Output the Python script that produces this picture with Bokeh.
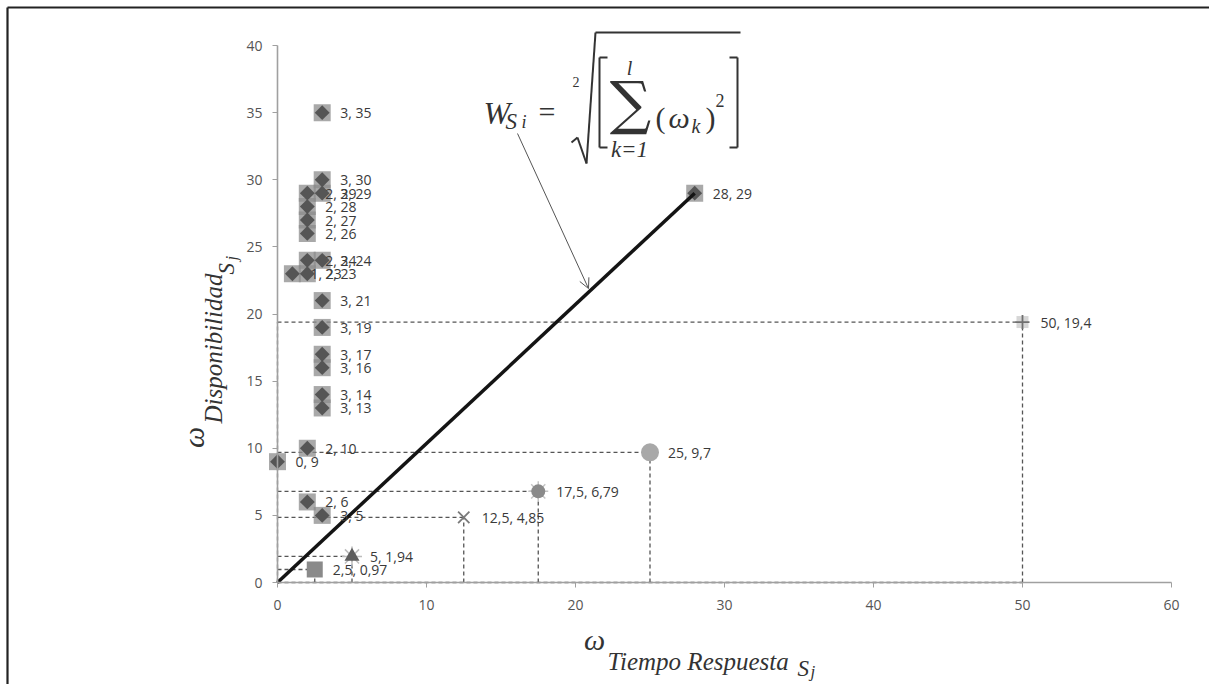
import math
from bokeh.plotting import figure
from bokeh.models import Range1d, Label, LabelSet, Arrow, OpenHead, ColumnDataSource
from bokeh.embed import file_html
from bokeh.resources import INLINE
from bokeh.core.properties import value

# ---------------- data ----------------
dia_x = [3, 3, 2, 3, 2, 2, 2, 2, 3, 1, 2, 3, 3, 3, 3, 3, 3, 2, 0, 2, 3, 28]
dia_y = [35, 30, 29, 29, 28, 27, 26, 24, 24, 23, 23, 21, 19, 17, 16, 14, 13, 10, 9, 6, 5, 29]

ref_x = [2.5, 5, 12.5, 17.5, 25, 50]
ref_y = [0.97, 1.94, 4.85, 6.79, 9.7, 19.4]

line_x = [0, 28]
line_y = [0, 29]

x_ticks = [0, 10, 20, 30, 40, 50, 60]
y_ticks = [0, 5, 10, 15, 20, 25, 30, 35, 40]

# ---------------- layout (page pixels) ----------------
CX, CY = 0, 0            # canvas origin on the page
W, H = 1209, 684
X0PX, XSC = 277.0, 14.9
Y0PX, YSC = 582.0, 13.425


def dx(px):
    return (px - X0PX) / XSC


def dy(py):
    return (Y0PX - py) / YSC


def fmt(v):
    return ("%g" % v).replace(".", ",")


p = figure(width=W, height=H,
           x_range=Range1d(dx(CX), dx(CX + W)), y_range=Range1d(dy(CY + H), dy(CY)),
           output_backend="svg", toolbar_location=None,
           min_border_left=0, min_border_right=0,
           min_border_top=0, min_border_bottom=0)
p.outline_line_color = None
p.outline_line_alpha = 0
p.xgrid.visible = False
p.ygrid.visible = False
p.background_fill_color = "white"
p.border_fill_color = "white"

AX = "#a0a0a0"
for ax in (p.xaxis[0], p.yaxis[0]):
    ax.axis_line_color = AX
    ax.axis_line_width = 1.6
    ax.major_tick_line_color = AX
    ax.major_tick_in = 0
    ax.major_tick_out = 5
    ax.minor_tick_line_color = None
    ax.major_label_text_font = "Open Sans"
    ax.major_label_text_font_size = "14px"
    ax.major_label_text_color = "#555555"
    ax.fixed_location = 0

p.xaxis.ticker = x_ticks
p.xaxis.bounds = (0, 60)
p.xaxis.major_label_standoff = 12
p.yaxis.ticker = y_ticks
p.yaxis.bounds = (0, 40)
p.yaxis.major_label_standoff = 10

# ---------------- drop lines ----------------
n = len(ref_x)
drop = ColumnDataSource(dict(
    x0=[0] * n + ref_x + [0, 0],
    y0=ref_y + [0] * n + [0, 0],
    x1=ref_x + ref_x + [0, max(ref_x)],
    y1=ref_y + ref_y + [max(ref_y), 0],
))
p.segment("x0", "y0", "x1", "y1", source=drop, line_color="#555555",
          line_width=1.3, line_dash="4 3")

# ---------------- diamond series ----------------
p.scatter(dia_x, dia_y, marker="square", size=17, fill_color="#8c8c8c",
          fill_alpha=0.75, line_color=None)
p.scatter(dia_x, dia_y, marker="square", angle=math.pi / 4, size=10.5,
          fill_color="#555555", line_color=None)

# ---------------- reference series ----------------
ref_marker = ["square", "triangle", "x", "circle", "circle", "cross"]
ref_size = [16, 15, 16, 14, 18, 14]
ref_fill = ["#8a8a8a", "#5e5e5e", None, "#8a8a8a", "#a8a8a8", None]
ref_line = [None, None, "#7a7a7a", None, None, "#707070"]
glow = {1: "#bdbdbd", 3: "#c4c4c4"}
for i in range(n):
    if i in glow:
        p.scatter([ref_x[i]], [ref_y[i]], marker="asterisk", size=20,
                  line_color=glow[i], line_width=1.5)
    if i == 5:
        p.scatter([ref_x[i]], [ref_y[i]], marker="square", size=12,
                  fill_color="#d6d6d6", line_color=None)
    p.scatter([ref_x[i]], [ref_y[i]], marker=ref_marker[i], size=ref_size[i],
              fill_color=ref_fill[i], line_color=ref_line[i], line_width=1.8)

# ---------------- W line ----------------
p.line(line_x, line_y, line_color="#141414", line_width=3.5)

# ---------------- data labels ----------------
lab_src = ColumnDataSource(dict(
    x=dia_x + ref_x,
    y=dia_y + ref_y,
    t=["%s, %s" % (fmt(a), fmt(b)) for a, b in zip(dia_x, dia_y)]
      + ["%s, %s" % (fmt(a), fmt(b)) for a, b in zip(ref_x, ref_y)],
))
p.add_layout(LabelSet(x="x", y="y", text="t", source=lab_src, x_offset=18,
                      text_baseline="middle", text_font=value("Open Sans"),
                      text_font_size=value("14px"), text_color="#3a3a3a"))

# ---------------- axis titles ----------------
SERIF = "Liberation Serif"
TC = "#333333"


def lab(px, py, text, size, align="left", base="alphabetic", angle=0.0,
        style="italic", font=SERIF):
    p.add_layout(Label(x=dx(px), y=dy(py), text=text, text_font=font,
                       text_font_size="%spx" % size, text_font_style=style,
                       text_color=TC, text_align=align, text_baseline=base,
                       angle=angle))


# x title
lab(594, 639, "ω", 30, align="center", base="middle")
lab(607, 661, "Tiempo Respuesta", 25)
lab(797, 668, "S", 23)
lab(810, 671, "j", 17)

# y title (rotated)
A = math.pi / 2
lab(193, 437, "ω", 30, align="center", base="middle", angle=A)
lab(213, 423, "Disponibilidad", 25, angle=A)
lab(226, 274, "S", 23, angle=A)
lab(231, 260, "j", 17, angle=A)

# ---------------- formula ----------------
lab(483, 112, "W", 32)
lab(505, 121, "S", 23)
lab(521, 121, "i", 18)
lab(538, 111, "=", 30, style="normal")
lab(572, 81, "2", 14, style="normal")
lab(630, 102, "∑", 58, align="center", base="middle", style="normal",
    font="DejaVu Serif")
lab(629, 67, "l", 20, align="center")
lab(629, 149, "k=1", 23, align="center")
lab(655, 117, "(", 30, style="normal")
lab(668, 117, "ω", 30)
lab(691, 125, "k", 20)
lab(705, 117, ")", 30, style="normal")
lab(715, 100, "2", 18, style="normal")


def stroke(pts, width=2.0, color=TC):
    for (a, b), (c, d) in zip(pts[:-1], pts[1:]):
        p.add_layout(Arrow(x_start=dx(a), y_start=dy(b), x_end=dx(c), y_end=dy(d),
                           start=None, end=None, line_color=color, line_width=width))


stroke([(571, 142), (577, 137), (586, 163), (595, 32), (740, 32)])
stroke([(607, 57), (599, 57), (599, 147), (607, 147)])
stroke([(729, 57), (737, 57), (737, 147), (729, 147)])

p.add_layout(Arrow(x_start=dx(517), y_start=dy(133), x_end=dx(588), y_end=dy(288),
                   end=OpenHead(size=10, line_color="#555555", line_width=1),
                   line_color="#555555", line_width=1))

# page frame (top and left rules of the figure box)
stroke([(7, 700), (7, 7), (1220, 7)], width=2.2, color="#222222")

open("out.html", "w").write(file_html(p, INLINE))
